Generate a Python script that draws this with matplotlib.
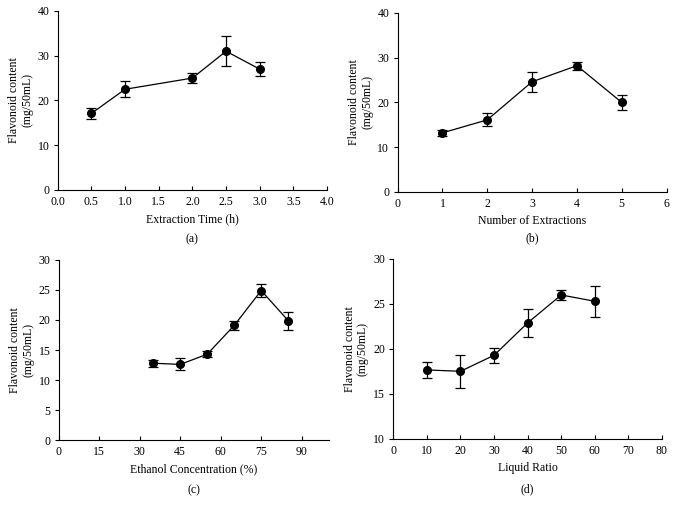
import matplotlib
matplotlib.use("Agg")
import matplotlib.pyplot as plt

plt.rcParams['font.family'] = ['Liberation Serif', 'DejaVu Serif']
plt.rcParams['font.size'] = 8.5

# (a) extraction time
time_x = [0.5, 1.0, 2.0, 2.5, 3.0]
time_y = [17.1, 22.5, 25.0, 31.0, 27.0]
time_err = [1.2, 1.8, 1.2, 3.4, 1.5]

# (b) number of extractions
num_x = [1, 2, 3, 4, 5]
num_y = [13.2, 16.1, 24.6, 28.2, 20.0]
num_err = [0.75, 1.45, 2.2, 0.9, 1.7]

# (c) ethanol concentration
eth_x = [35, 45, 55, 65, 75, 85]
eth_y = [12.8, 12.6, 14.3, 19.1, 24.9, 19.9]
eth_err = [0.55, 1.0, 0.5, 0.8, 1.15, 1.5]

# (d) liquid ratio
liq_x = [10, 20, 30, 40, 50, 60]
liq_y = [17.67, 17.52, 19.3, 22.9, 26.0, 25.3]
liq_err = [0.93, 1.83, 0.85, 1.55, 0.6, 1.75]

fig = plt.figure(figsize=(6.75, 5.12), dpi=100)

panels = [
    # rect, x, y, err, xlim, xticks, ylim, yticks, xlabel, tag
    ([0.0855, 0.629, 0.399, 0.3496], time_x, time_y, time_err,
     (0, 4), [0, 0.5, 1, 1.5, 2, 2.5, 3, 3.5, 4], (0, 40), [0, 10, 20, 30, 40],
     'Extraction Time (h)', '(a)', 0.533, '{:.1f}'),
    ([0.589, 0.625, 0.3985, 0.350], num_x, num_y, num_err,
     (0, 6), [0, 1, 2, 3, 4, 5, 6], (0, 40), [0, 10, 20, 30, 40],
     'Number of Extractions', '(b)', 0.535, '{:g}'),
    ([0.087, 0.1406, 0.400, 0.3516], eth_x, eth_y, eth_err,
     (0, 100), [0, 15, 30, 45, 60, 75, 90], (0, 30), [0, 5, 10, 15, 20, 25, 30],
     'Ethanol Concentration (%)', '(c)', 0.043, '{:g}'),
    ([0.5827, 0.1426, 0.398, 0.3516], liq_x, liq_y, liq_err,
     (0, 80), [0, 10, 20, 30, 40, 50, 60, 70, 80], (10, 30), [10, 15, 20, 25, 30],
     'Liquid Ratio', '(d)', 0.045, '{:g}'),
]

for rect, x, y, err, xlim, xt, ylim, yt, xlab, tag, tag_y, fmt in panels:
    ax = fig.add_axes(rect)
    ax.errorbar(x, y, yerr=err, color='black', marker='o', markersize=5.5,
                linewidth=0.9, elinewidth=0.9, capsize=3.5, capthick=0.9)
    ax.set_xlim(*xlim)
    ax.set_ylim(*ylim)
    ax.set_xticks(xt)
    ax.set_xticklabels([fmt.format(v) for v in xt])
    ax.set_yticks(yt)
    ax.spines['top'].set_visible(False)
    ax.spines['right'].set_visible(False)
    ax.spines['left'].set_linewidth(0.8)
    ax.spines['bottom'].set_linewidth(0.8)
    ax.tick_params(axis='x', direction='in', length=3, width=0.8, pad=4)
    ax.tick_params(axis='y', direction='out', length=3, width=0.8, pad=3)
    for lbl in ax.get_xticklabels():
        lbl.set_clip_on(False)
    ax.set_xlabel(xlab, labelpad=4)
    ax.set_ylabel('Flavonoid content\n(mg/50mL)', labelpad=3, linespacing=1.1)
    fig.text(rect[0] + rect[2] / 2, tag_y, tag, ha='center', va='center')

fig.savefig('out.png', dpi=100)
